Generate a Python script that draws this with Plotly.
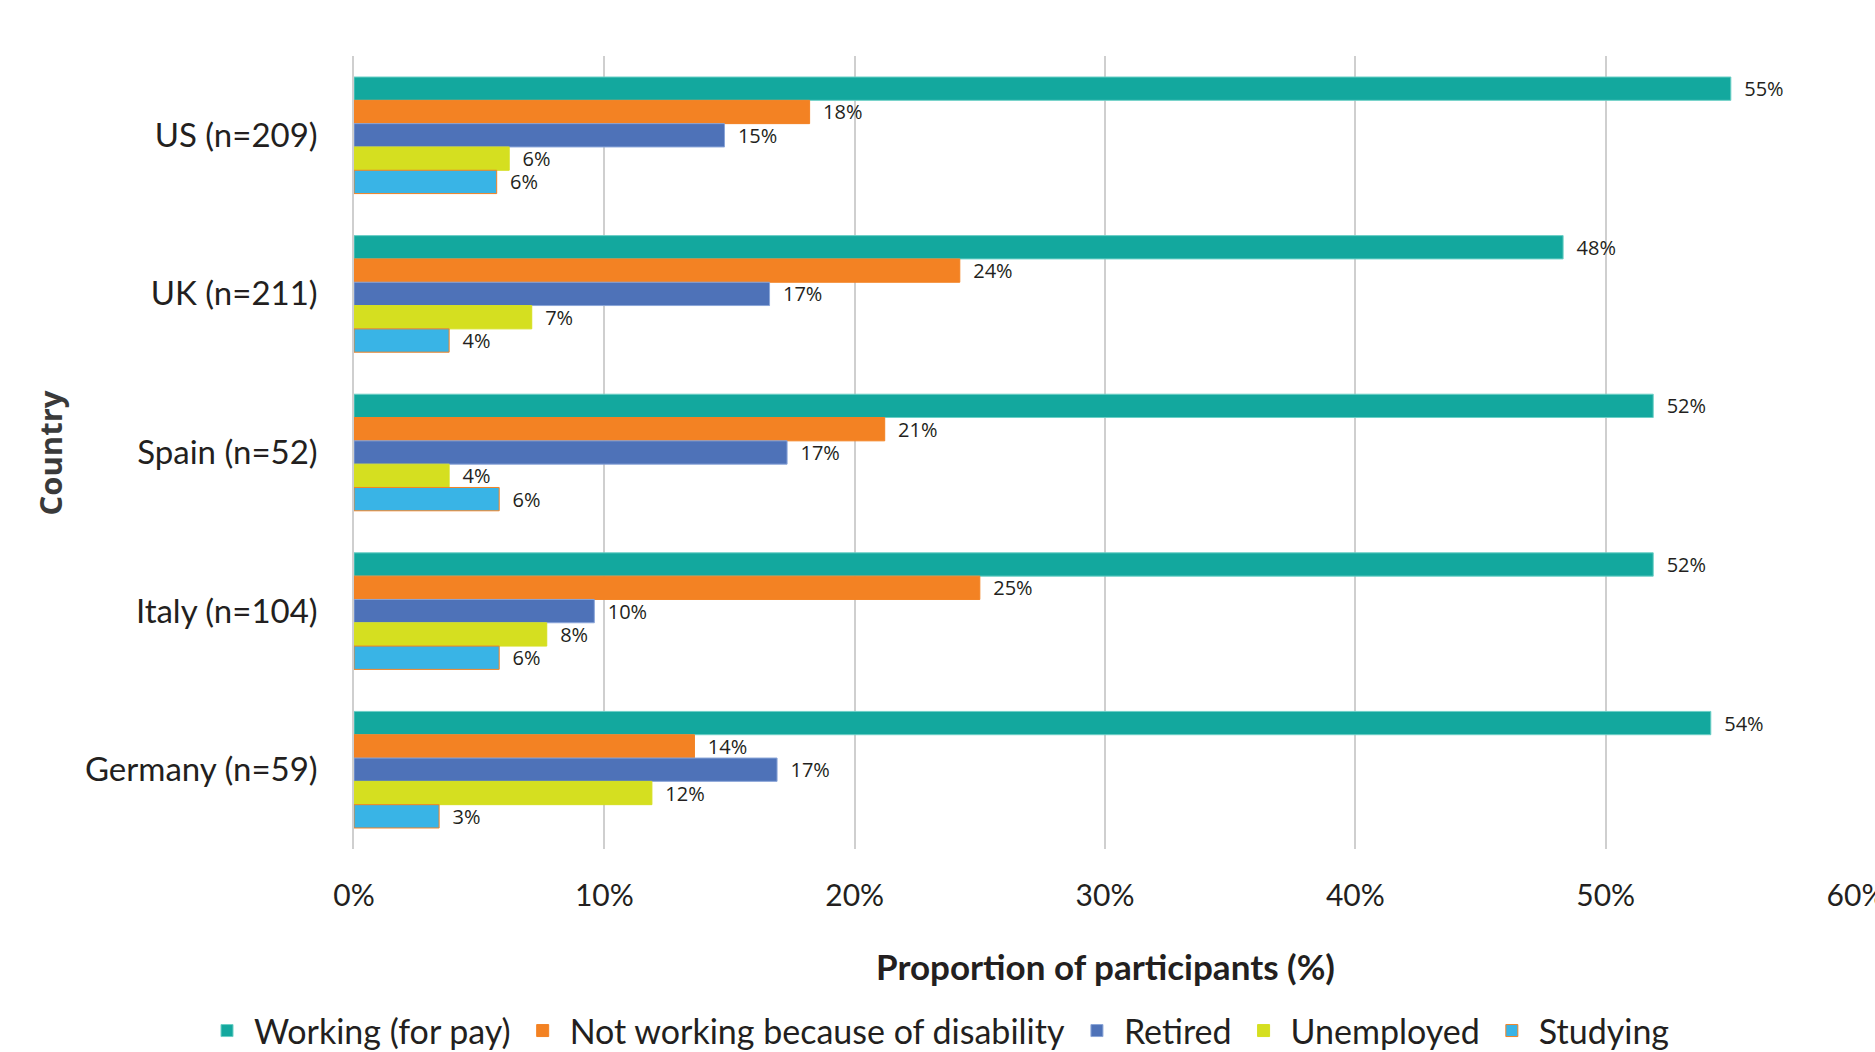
import plotly.graph_objects as go

# Countries (top to bottom) and employment status shares, in percent
countries = ["US (n=209)", "UK (n=211)", "Spain (n=52)", "Italy (n=104)", "Germany (n=59)"]

working_for_pay = [55.0, 48.3, 51.9, 51.9, 54.2]
not_working_disability = [18.2, 24.2, 21.2, 25.0, 13.6]
retired = [14.8, 16.6, 17.3, 9.6, 16.9]
unemployed = [6.2, 7.1, 3.8, 7.7, 11.9]
studying = [5.7, 3.8, 5.8, 5.8, 3.4]

x_ticks = [0, 10, 20, 30, 40, 50, 60]
x_tick_labels = ["0%", "10%", "20%", "30%", "40%", "50%", "60%"]

series = [
    ("Working (for pay)", working_for_pay, "#13A89E", "#6ccfc6"),
    ("Not working because of disability", not_working_disability, "#F38223", "#F38223"),
    ("Retired", retired, "#4E72B8", "#8aa5d8"),
    ("Unemployed", unemployed, "#D5DF20", "#D5DF20"),
    ("Studying", studying, "#39B4E6", "#F38223"),
]

FONT = "Lato"
LABEL_FONT = "Open Sans"
TEXT = "#231f20"

fig = go.Figure()
for name, values, color, edge in series:
    fig.add_trace(go.Bar(
        y=countries,
        x=values,
        name=name,
        orientation="h",
        marker=dict(color=color, line=dict(color=edge, width=1)),
        texttemplate="  %{x:.0f}%",
        textposition="outside",
        constraintext="none",
        textfont=dict(family=LABEL_FONT, size=20, color=TEXT),
        cliponaxis=False,
    ))

fig.update_layout(
    width=1875,
    height=1052,
    barmode="group",
    bargap=0.265,
    bargroupgap=0,
    plot_bgcolor="white",
    paper_bgcolor="white",
    margin=dict(l=354, r=19, t=56, b=203, autoexpand=False),
    font=dict(family=FONT, color=TEXT),
    showlegend=True,
    legend=dict(
        orientation="h",
        xref="container",
        yref="container",
        x=0.5,
        xanchor="center",
        y=0.02,
        yanchor="middle",
        font=dict(family=FONT, size=34, color=TEXT),
        itemwidth=44,
        traceorder="normal",
    ),
    xaxis=dict(
        range=[0, 60],
        tickmode="array",
        tickvals=x_ticks,
        ticktext=x_tick_labels,
        showgrid=True,
        gridcolor="#cfcfcf",
        gridwidth=1.5,
        zeroline=False,
        showline=False,
        tickfont=dict(family=FONT, size=30, color=TEXT),
        ticklabelstandoff=26,
        ticklabeloverflow="allow",
    ),
    yaxis=dict(
        autorange="reversed",
        showgrid=False,
        zeroline=False,
        showline=True,
        linecolor="#cfcfcf",
        linewidth=1.5,
        tickfont=dict(family=FONT, size=33, color=TEXT),
        ticklabelstandoff=28,
    ),
    annotations=[
        dict(
            text="<b>Proportion of participants (%)</b>",
            xref="paper", yref="paper",
            x=0.5, y=-0.1475,
            xanchor="center", yanchor="middle",
            showarrow=False,
            font=dict(family=FONT, size=35, color=TEXT),
        ),
        dict(
            text="<b>Country</b>",
            xref="paper", yref="paper",
            x=-0.2024, y=0.5,
            xanchor="center", yanchor="middle",
            textangle=-90,
            showarrow=False,
            font=dict(family=LABEL_FONT, size=31, color="#3a3a3a"),
        ),
    ],
)

fig.write_html("out.html")
